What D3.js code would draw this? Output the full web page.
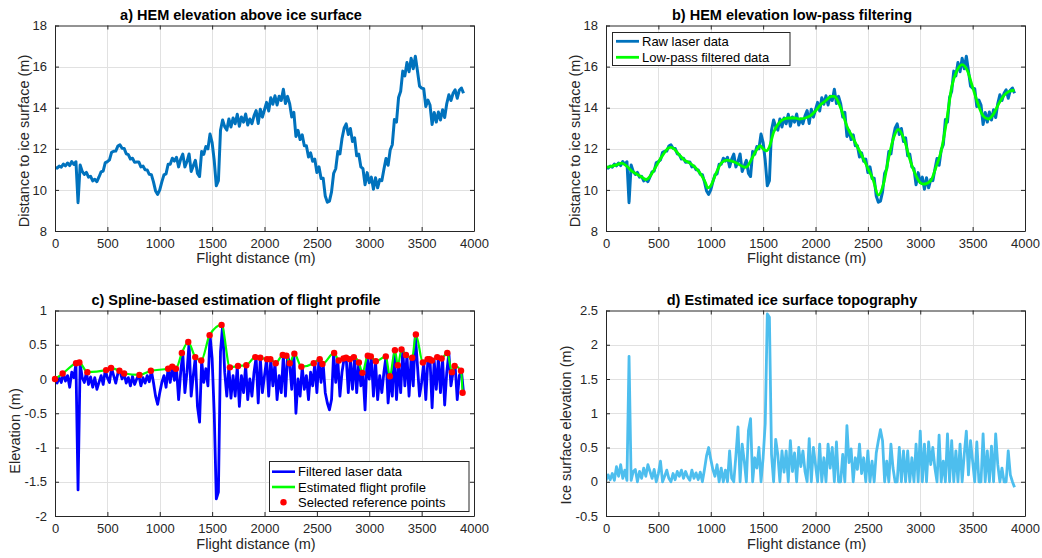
<!DOCTYPE html>
<html><head><meta charset="utf-8">
<script src="https://cdn.jsdelivr.net/npm/d3@7"></script>
<style>
body{margin:0;background:#fff;}
svg{display:block;font-family:"Liberation Sans",Arial,Helvetica,sans-serif;}
</style>
</head><body>
<svg id="chart" width="1042" height="558"></svg>
<script>
// ---------------- DATA ----------------
// flight distance sampling grid (m)
const distance = d3.range(0, 3901, 20);

// a) raw laser: distance to ice surface (m)
const rawLaser = [
  11.10, 11.06, 11.16, 11.11, 11.26, 11.17, 11.31, 11.18, 11.38, 11.24,
  11.37,  9.38, 11.21, 10.90, 10.75, 10.85, 10.62, 10.66, 10.44, 10.52,
  10.40, 10.63, 10.88, 10.92, 11.33, 11.37, 11.46, 11.83, 11.88, 11.89,
  12.13, 12.19, 12.03, 12.02, 11.76, 11.72, 11.50, 11.54, 11.34, 11.36,
  11.36, 11.12, 11.16, 10.98, 10.97, 10.76, 10.74, 10.39,  9.95,  9.78,
  10.00, 10.39, 10.73, 10.78, 11.25, 11.25, 11.54, 11.40, 11.59, 11.12,
  11.50, 11.74, 11.12, 11.38, 11.75, 10.90, 11.17, 11.44, 10.80, 10.65,
  11.87, 11.73, 12.11, 12.00, 12.72, 12.30, 11.43, 10.20, 10.45, 12.90,
  13.40, 13.08, 12.91, 13.45, 13.06, 13.50, 13.22, 13.68, 13.10, 13.55,
  13.30, 13.69, 13.16, 13.45, 13.22, 13.60, 13.86, 13.23, 13.93, 13.54,
  13.90, 14.26, 13.84, 14.48, 14.17, 14.58, 14.13, 14.56, 14.35, 14.90,
  14.20, 14.55, 14.20, 13.55, 13.77, 12.60, 12.90, 12.45, 12.68, 12.15,
  12.15, 11.60, 11.80, 11.39, 11.50, 10.85, 11.12, 10.56, 10.57,  9.70,
   9.40,  9.45,  9.90, 10.80, 11.03, 11.87, 11.75, 12.50, 13.00, 13.21,
  12.70, 12.99, 12.35, 12.54, 11.66, 11.74, 11.12, 11.03, 10.25, 10.84,
  10.35, 10.62, 10.03, 10.59, 10.10, 10.50, 10.45, 11.00, 11.53, 11.20,
  11.94, 12.20, 13.42, 13.30, 14.50, 14.80, 15.78, 15.55, 16.20, 15.75,
  16.41, 15.90, 16.50, 15.80, 15.05, 14.95, 14.92, 14.06, 14.37, 14.13,
  13.18, 13.77, 13.30, 13.79, 13.40, 13.90, 13.52, 14.20, 14.63, 14.35,
  14.70, 14.87, 14.46, 14.85, 14.96, 14.70
];

// b) low-pass filtered data
const lowpassX = [
  0, 50, 100, 150, 200,   250, 300, 350, 380, 400,
  450, 500, 550, 600, 620,   650, 700, 750, 800, 850,
  900, 950, 970, 1000, 1050,   1100, 1150, 1200, 1250, 1300,
  1330, 1350, 1400, 1450, 1470,   1500, 1530, 1560, 1600, 1650,
  1700, 1750, 1800, 1850, 1900,   1950, 2000, 2050, 2100, 2150,
  2180, 2200, 2250, 2300, 2350,   2400, 2450, 2500, 2550, 2600,
  2650, 2700, 2750, 2790, 2850,   2900, 2950, 3000, 3030, 3100,
  3150, 3200, 3250, 3300, 3350,   3400, 3450, 3500, 3550, 3600,
  3650, 3700, 3750, 3800, 3850,   3900
];
const lowpassY = [
  11.10, 11.15, 11.22, 11.30, 11.15,   10.90, 10.75, 10.60, 10.50, 10.55,
  10.90, 11.35, 11.75, 12.05, 12.07,   12.00, 11.70, 11.45, 11.30, 11.10,
  10.80, 10.35, 10.10, 10.20, 10.80,   11.30, 11.45, 11.40, 11.30, 11.15,
  11.10, 11.15, 11.60, 12.05, 12.15,   12.00, 11.90, 12.10, 12.80, 13.25,
  13.45, 13.50, 13.50, 13.45, 13.50,   13.60, 13.85, 14.15, 14.35, 14.55,
  14.55, 14.45, 13.85, 13.10, 12.60,   12.10, 11.60, 11.05, 10.50,  9.75,
  10.30, 11.60, 12.60, 12.95, 12.40,   11.50, 10.80, 10.35, 10.28, 10.45,
  11.10, 11.90, 13.30, 15.00, 15.80,   16.10, 15.80, 15.00, 14.20, 13.60,
  13.45, 13.70, 14.20, 14.60, 14.80,   14.85
];

// c) filtered laser data (elevation, m)
const filteredLaser = [
   0.00, -0.06,  0.02, -0.05,  0.08, -0.03,  0.05, -0.12,  0.10,  0.02,
   0.22, -1.62,  0.23,  0.02, -0.05,  0.10, -0.08,  0.03, -0.12,  0.02,
  -0.15, -0.05,  0.05, -0.08,  0.13,  0.02, -0.05,  0.16,  0.05, -0.06,
   0.08,  0.12,  0.00,  0.08, -0.06,  0.02, -0.10,  0.04, -0.08,  0.00,
   0.06, -0.10,  0.02, -0.06,  0.05, -0.04,  0.12, -0.05, -0.25, -0.37,
  -0.20, -0.05,  0.05, -0.12,  0.15, -0.05,  0.18, -0.02,  0.15, -0.30,
   0.10,  0.38, -0.20,  0.10,  0.53, -0.25,  0.05,  0.32, -0.40, -0.63,
   0.27, -0.05,  0.15, -0.10,  0.64,  0.30, -0.50, -1.75, -1.65,  0.40,
   0.78,  0.10, -0.25,  0.17, -0.28,  0.05, -0.25,  0.19, -0.40,  0.05,
  -0.20,  0.20, -0.30,  0.00, -0.25,  0.10,  0.32, -0.35,  0.31, -0.20,
   0.05,  0.29, -0.25,  0.29, -0.10,  0.23, -0.30,  0.05, -0.20,  0.35,
  -0.25,  0.34,  0.23, -0.15,  0.37, -0.50,  0.00, -0.25,  0.18, -0.15,
   0.05, -0.30,  0.10, -0.10,  0.23, -0.20,  0.29, -0.05,  0.22, -0.20,
  -0.35, -0.45, -0.30,  0.38, -0.05,  0.27, -0.25,  0.10,  0.30,  0.31,
  -0.20,  0.29, -0.15,  0.32, -0.20,  0.24, -0.10,  0.09, -0.45,  0.34,
   0.00,  0.33, -0.25,  0.26, -0.30,  0.05, -0.20,  0.10,  0.33, -0.35,
   0.04, -0.25,  0.42, -0.30,  0.20, -0.20,  0.43, -0.10,  0.35, -0.25,
   0.31, -0.10,  0.65,  0.20, -0.25, -0.05,  0.24, -0.30,  0.29,  0.29,
  -0.42,  0.27, -0.15,  0.32, -0.20,  0.30, -0.38,  0.10,  0.38, -0.10,
   0.10,  0.19, -0.30,  0.05,  0.12, -0.20
];

// c) selected reference points / estimated flight profile
const refX = [
  0, 73, 201, 233, 309,   488, 535, 615, 660, 806,
  915, 1080, 1119, 1154, 1211,   1272, 1339, 1396, 1476, 1590,
  1670, 1747, 1826, 1912, 1960,   2024, 2056, 2107, 2174, 2209,
  2241, 2285, 2352, 2470, 2527,   2553, 2665, 2709, 2754, 2779,
  2815, 2853, 2901, 2935, 2986,   3015, 3063, 3158, 3197, 3245,
  3273, 3308, 3350, 3410, 3445,   3512, 3557, 3576, 3598, 3649,
  3691, 3745, 3790, 3815, 3876,   3891
];
const refY = [
  0.00, 0.08, 0.23, 0.24, 0.10,   0.13, 0.16, 0.12, 0.08, 0.06,
  0.12, 0.15, 0.18, 0.15, 0.38,   0.54, 0.32, 0.27, 0.64, 0.79,
  0.17, 0.19, 0.20, 0.32, 0.31,   0.29, 0.29, 0.23, 0.35, 0.34,
  0.23, 0.37, 0.18, 0.23, 0.29,   0.22, 0.38, 0.27, 0.30, 0.31,
  0.29, 0.32, 0.24, 0.09, 0.34,   0.33, 0.26, 0.33, 0.04, 0.42,
  0.20, 0.43, 0.35, 0.31, 0.65,   0.24, 0.29, 0.29, 0.27, 0.32,
  0.30, 0.38, 0.10, 0.19, 0.12,  -0.20
];

// d) estimated ice surface elevation (m)
const iceSurface = [
  0.02, 0.10, 0.03, 0.12, 0.02, 0.22, 0.08, 0.25, 0.05, 0.17,
  0.02, 1.83, 0.02, 0.15, 0.18, 0.00, 0.15, 0.05, 0.20, 0.08,
  0.25, 0.15, 0.05, 0.18, 0.00, 0.12, 0.30, 0.00, 0.08, 0.17,
  0.05, 0.00, 0.12, 0.03, 0.15, 0.08, 0.17, 0.05, 0.15, 0.07,
  0.02, 0.17, 0.05, 0.13, 0.03, 0.14, 0.00, 0.18, 0.38, 0.50,
  0.33, 0.18, 0.08, 0.25, 0.00, 0.20, 0.00, 0.17, 0.00, 0.45,
  0.05, 0.00, 0.38, 0.80, 0.00, 0.55, 0.30, 0.00, 0.75, 0.92,
  0.00, 0.35, 0.20, 0.50, 0.00, 0.35, 0.85, 2.45, 2.40, 0.40,
  0.00, 0.62, 0.40, 0.00, 0.45, 0.14, 0.45, 0.00, 0.60, 0.15,
  0.42, 0.00, 0.50, 0.22, 0.45, 0.15, 0.00, 0.63, 0.00, 0.50,
  0.25, 0.00, 0.55, 0.00, 0.35, 0.00, 0.55, 0.20, 0.50, 0.00,
  0.58, 0.00, 0.00, 0.40, 0.00, 0.82, 0.28, 0.48, 0.00, 0.35,
  0.18, 0.55, 0.12, 0.35, 0.00, 0.45, 0.00, 0.30, 0.00, 0.42,
  0.60, 0.76, 0.60, 0.00, 0.30, 0.00, 0.55, 0.20, 0.00, 0.00,
  0.50, 0.00, 0.45, 0.00, 0.45, 0.00, 0.35, 0.00, 0.55, 0.00,
  0.74, 0.00, 0.55, 0.00, 0.58, 0.25, 0.50, 0.20, 0.00, 0.68,
  0.00, 0.30, 0.00, 0.70, 0.00, 0.60, 0.00, 0.45, 0.00, 0.55,
  0.00, 0.40, 0.74, 0.10, 0.60, 0.30, 0.00, 0.58, 0.00, 0.00,
  0.70, 0.00, 0.45, 0.00, 0.52, 0.00, 0.70, 0.25, 0.00, 0.20,
  0.00, 0.00, 0.45, 0.10, 0.00, -0.08
];

// tick values
const xTicks = [0, 500, 1000, 1500, 2000, 2500, 3000, 3500, 4000];
const yTicksAB = [8, 10, 12, 14, 16, 18];
const yTicksC = [-2, -1.5, -1, -0.5, 0, 0.5, 1];
const yTicksD = [-0.5, 0, 0.5, 1, 1.5, 2, 2.5];

// ---------------- DRAWING ----------------
const svg = d3.select("#chart");
const AX = "#262626";
const GRID = "#e1e1e1";

function panel(o) {
  const g = svg.append("g");
  const x = d3.scaleLinear().domain([0, 4000]).range([o.l, o.r]);
  const y = d3.scaleLinear().domain(o.yDomain).range([o.b, o.t]);
  const id = "clip" + o.id;
  svg.append("clipPath").attr("id", id).append("rect")
    .attr("x", o.l).attr("y", o.t).attr("width", o.r - o.l).attr("height", o.b - o.t);

  // grid
  g.append("g").selectAll("line").data(xTicks.slice(1, -1)).join("line")
    .attr("x1", d => Math.round(x(d)) + 0.5).attr("x2", d => Math.round(x(d)) + 0.5)
    .attr("y1", o.t).attr("y2", o.b).attr("stroke", GRID).attr("stroke-width", 1);
  g.append("g").selectAll("line").data(o.yTicks.slice(1, -1)).join("line")
    .attr("y1", d => Math.round(y(d)) + 0.5).attr("y2", d => Math.round(y(d)) + 0.5)
    .attr("x1", o.l).attr("x2", o.r).attr("stroke", GRID).attr("stroke-width", 1);

  const data = g.append("g").attr("clip-path", `url(#${id})`);

  const styleAxis = sel => {
    sel.select(".domain").attr("stroke", AX).attr("stroke-width", 1);
    sel.selectAll(".tick line").attr("stroke", AX);
    sel.selectAll(".tick text").attr("fill", AX).attr("font-size", 13)
      .attr("font-family", '"Liberation Sans",Arial,sans-serif');
  };
  const fmt = d => String(d);
  const axes = svg.append("g");
  axes.append("g").attr("transform", `translate(0,${o.b})`)
    .call(d3.axisBottom(x).tickValues(xTicks).tickFormat(fmt).tickSizeInner(-4).tickSizeOuter(0).tickPadding(8))
    .call(styleAxis);
  axes.append("g").attr("transform", `translate(0,${o.t})`)
    .call(d3.axisTop(x).tickValues(xTicks).tickFormat("").tickSizeInner(-4).tickSizeOuter(0))
    .call(styleAxis);
  axes.append("g").attr("transform", `translate(${o.l},0)`)
    .call(d3.axisLeft(y).tickValues(o.yTicks).tickFormat(fmt).tickSizeInner(-4).tickSizeOuter(0).tickPadding(8))
    .call(styleAxis);
  axes.append("g").attr("transform", `translate(${o.r},0)`)
    .call(d3.axisRight(y).tickValues(o.yTicks).tickFormat("").tickSizeInner(-4).tickSizeOuter(0))
    .call(styleAxis);
  axes.selectAll("text").attr("font-family", '"Liberation Sans",Arial,sans-serif');

  // title & labels
  svg.append("text").attr("x", o.titleX).attr("y", o.titleY).attr("text-anchor", "middle")
    .attr("font-weight", "bold").attr("font-size", 14.5).attr("fill", "#000").text(o.title);
  svg.append("text").attr("x", o.xlX).attr("y", o.xlY).attr("text-anchor", "middle")
    .attr("font-size", 14.5).attr("fill", AX).text("Flight distance (m)");
  svg.append("text").attr("transform", `translate(${o.ylX},${o.ylY}) rotate(-90)`)
    .attr("text-anchor", "middle").attr("font-size", 14.5).attr("fill", AX).text(o.ylabel);

  return { x, y, data, axes };
}

const line = (x, y) => d3.line().x(d => x(d[0])).y(d => y(d[1]));

// a)
{
  const p = panel({ id: "a", l: 55, r: 474, t: 25.5, b: 231, yDomain: [8, 18], yTicks: yTicksAB,
    title: "a) HEM elevation above ice surface", titleX: 241, titleY: 20,
    xlX: 256, xlY: 262.5, ylX: 29, ylY: 141, ylabel: "Distance to ice surface (m)" });
  p.data.append("path").datum(d3.zip(distance, rawLaser)).attr("d", line(p.x, p.y))
    .attr("fill", "none").attr("stroke", "#0072BD").attr("stroke-width", 3).attr("stroke-linejoin", "round");
}
// b)
{
  const p = panel({ id: "b", l: 606, r: 1025, t: 25.5, b: 231, yDomain: [8, 18], yTicks: yTicksAB,
    title: "b) HEM elevation low-pass filtering", titleX: 792, titleY: 20,
    xlX: 806.7, xlY: 262.5, ylX: 580, ylY: 141, ylabel: "Distance to ice surface (m)" });
  p.data.append("path").datum(d3.zip(distance, rawLaser)).attr("d", line(p.x, p.y))
    .attr("fill", "none").attr("stroke", "#0072BD").attr("stroke-width", 3).attr("stroke-linejoin", "round");
  p.data.append("path").datum(d3.zip(lowpassX, lowpassY)).attr("d", line(p.x, p.y).curve(d3.curveMonotoneX))
    .attr("fill", "none").attr("stroke", "#00FF00").attr("stroke-width", 2.8);
  const lg = svg.append("g");
  lg.append("rect").attr("x", 612.5).attr("y", 32.5).attr("width", 177.5).attr("height", 33)
    .attr("fill", "#fff").attr("stroke", AX).attr("stroke-width", 1);
  const items = [["Raw laser data", "#0072BD"], ["Low-pass filtered data", "#00FF00"]];
  items.forEach((it, i) => {
    const cy = 41.3 + i * 16;
    lg.append("line").attr("x1", 616).attr("x2", 639).attr("y1", cy).attr("y2", cy)
      .attr("stroke", it[1]).attr("stroke-width", 2.8);
    lg.append("text").attr("x", 642).attr("y", cy).attr("dy", "0.35em").attr("font-size", 13)
      .attr("fill", "#000").text(it[0]);
  });
}
// c)
{
  const p = panel({ id: "c", l: 55, r: 474, t: 310.5, b: 516, yDomain: [-2, 1], yTicks: yTicksC,
    title: "c) Spline-based estimation of flight profile", titleX: 236, titleY: 304.5,
    xlX: 256, xlY: 549, ylX: 20, ylY: 431, ylabel: "Elevation (m)" });
  p.data.append("path").datum(d3.zip(distance, filteredLaser)).attr("d", line(p.x, p.y))
    .attr("fill", "none").attr("stroke", "#0000FF").attr("stroke-width", 2.8).attr("stroke-linejoin", "round");
  p.data.append("path").datum(d3.zip(refX, refY)).attr("d", line(p.x, p.y).curve(d3.curveMonotoneX))
    .attr("fill", "none").attr("stroke", "#00FF00").attr("stroke-width", 2.2);
  svg.append("g").selectAll("circle").data(d3.zip(refX, refY)).join("circle")
    .attr("cx", d => p.x(d[0])).attr("cy", d => p.y(d[1])).attr("r", 3.2).attr("fill", "#FF0000");
  const lg = svg.append("g");
  lg.append("rect").attr("x", 269.5).attr("y", 461.5).attr("width", 199.5).attr("height", 50)
    .attr("fill", "#fff").attr("stroke", AX).attr("stroke-width", 1);
  const items = [["Filtered laser data", "#0000FF", "l"], ["Estimated flight profile", "#00FF00", "l"],
                 ["Selected reference points", "#FF0000", "p"]];
  items.forEach((it, i) => {
    const cy = 471.7 + i * 15.3;
    if (it[2] === "l") {
      lg.append("line").attr("x1", 272).attr("x2", 295).attr("y1", cy).attr("y2", cy)
        .attr("stroke", it[1]).attr("stroke-width", 2.6);
    } else {
      lg.append("circle").attr("cx", 283.5).attr("cy", cy).attr("r", 3.2).attr("fill", it[1]);
    }
    lg.append("text").attr("x", 298).attr("y", cy).attr("dy", "0.35em").attr("font-size", 13)
      .attr("fill", "#000").text(it[0]);
  });
}
// d)
{
  const p = panel({ id: "d", l: 606, r: 1025, t: 310.5, b: 516, yDomain: [-0.5, 2.5], yTicks: yTicksD,
    title: "d) Estimated ice surface topography", titleX: 792, titleY: 304.5,
    xlX: 806.7, xlY: 549, ylX: 571, ylY: 425, ylabel: "Ice surface elevation (m)" });
  p.data.append("path").datum(d3.zip(distance, iceSurface)).attr("d", line(p.x, p.y))
    .attr("fill", "none").attr("stroke", "#4DBEEE").attr("stroke-width", 2.8).attr("stroke-linejoin", "round");
}
</script>
</body></html>
